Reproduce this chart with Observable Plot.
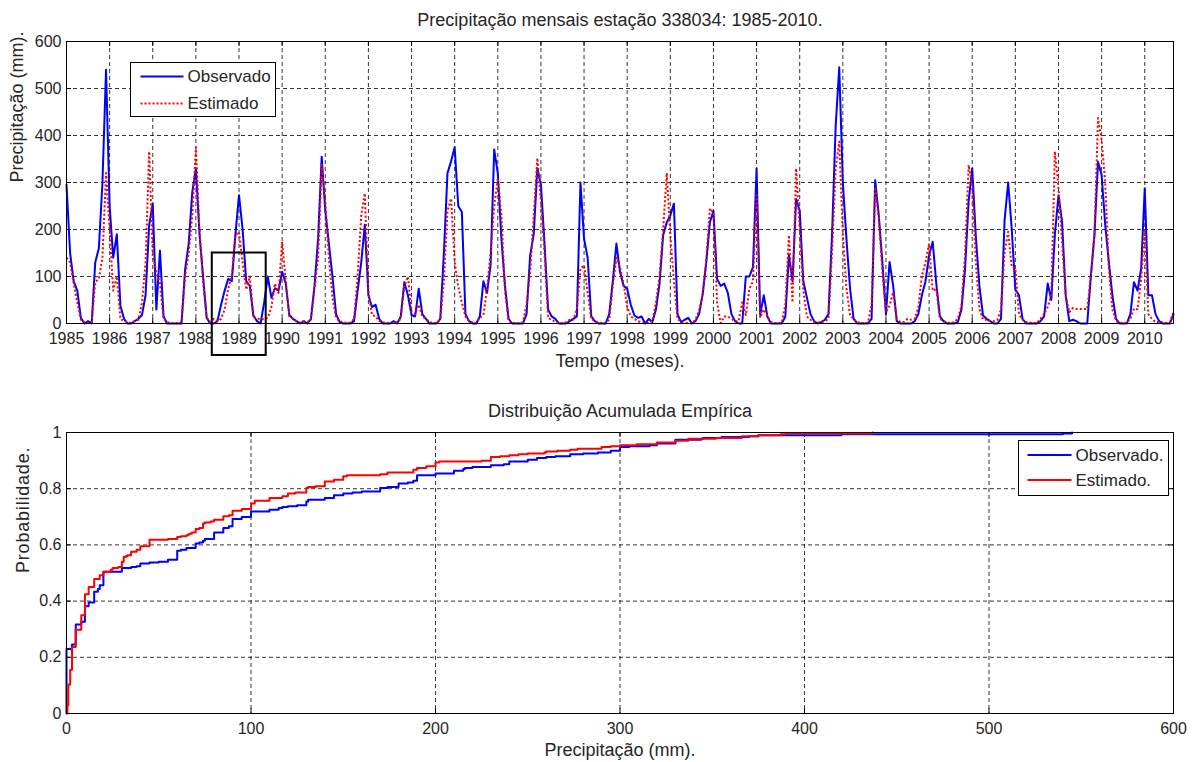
<!DOCTYPE html>
<html><head><meta charset="utf-8">
<script src="https://cdn.jsdelivr.net/npm/d3@7"></script>
<script src="https://cdn.jsdelivr.net/npm/@observablehq/plot@0.6"></script>
<style>
body{margin:0;background:#fff;}
#wrap{width:1197px;height:762px;position:relative;overflow:hidden;background:#fff;}
#wrap svg{display:block;}
</style></head><body><div id="wrap"></div>
<script>
// Monthly precipitation (mm), Jan 1985 .. Sep 2010
const observado = [
 295,150,90,70,12,0,5,0,130,160,300,540,
 250,140,190,38,10,0,0,5,10,18,60,210,
 255,30,155,15,0,0,0,0,0,115,170,280,
 330,190,100,12,0,0,5,40,70,95,90,190,
 273,200,90,80,17,5,0,45,100,55,75,70,
 110,85,18,10,5,0,5,0,10,80,180,355,
 240,170,100,20,3,0,0,0,5,70,130,210,
 60,35,40,10,0,0,0,5,0,15,88,60,
 18,15,74,20,10,0,0,0,10,150,320,345,
 375,250,237,20,5,0,0,15,90,65,125,370,
 320,180,80,10,0,0,0,0,20,145,190,330,
 295,170,30,15,10,0,0,0,5,10,15,300,
 180,140,15,5,0,0,0,20,90,170,110,80,
 74,40,17,12,15,0,10,3,30,85,188,215,
 230,255,20,3,8,12,0,5,20,62,130,215,
 240,95,80,85,65,20,5,0,0,100,100,120,
 330,18,60,15,0,0,0,0,15,145,90,265,
 240,90,55,20,5,0,3,8,20,190,420,545,
 300,180,75,10,0,0,0,0,10,305,230,130,
 20,131,80,5,0,0,0,0,5,20,60,90,
 145,174,85,15,5,0,0,0,3,30,115,260,
 330,185,80,17,10,5,0,0,10,220,300,200,
 72,60,10,0,0,0,0,5,15,85,50,190,
 273,216,60,5,8,5,0,0,0,100,188,344,
 316,210,131,60,10,0,0,0,20,88,70,117,
 288,60,60,20,5,0,0,0,20
];
const estimado = [
 140,130,85,45,8,3,1,2,88,95,140,320,
 200,70,100,10,5,3,1,5,8,45,130,366,
 145,110,85,10,3,1,0.5,1,3,100,150,230,
 375,200,90,12,3,10,5,10,30,74,102,188,
 195,130,72,100,12,12,8,10,12,35,85,65,
 174,90,15,10,5,2,5,3,8,74,140,337,
 260,140,55,12,5,3,1,2,10,100,230,277,
 68,18,15,5,3,1,0.5,1,3,10,80,100,
 25,20,40,15,10,3,1,2,8,90,240,266,
 131,78,45,15,5,2,0.5,12,18,74,150,250,
 309,230,70,5,2,1,0.5,3,40,110,230,352,
 259,150,12,8,3,1,0.5,3,8,8,30,117,
 124,66,10,5,2,1,0.5,8,80,140,120,85,
 35,15,10,5,2,1,1,5,45,100,200,320,
 188,90,10,3,2,1,0.5,8,28,62,135,245,
 235,45,1,15,15,10,5,5,45,18,74,90,
 273,12,30,15,3,1,0.5,2,40,188,45,330,
 200,70,15,8,3,2,3,5,10,150,330,387,
 190,75,18,10,3,1,0.5,2,40,290,225,110,
 24,38,67,10,3,3,10,8,10,35,102,130,
 170,70,74,10,5,2,1,3,10,38,145,337,
 295,130,31,8,8,5,5,8,30,152,195,120,
 117,20,8,3,2,1,1,10,20,35,60,366,
 290,174,60,24,33,31,31,31,31,102,190,437,
 390,300,120,30,5,2,1,1,10,32,30,95,
 202,20,10,3,3,2,1,3,25
];
const startYear = 1985;
const yearTicks = d3.range(1985, 2011);
const precipTicks = [0,100,200,300,400,500,600];
const ecdfXTicks = [0,100,200,300,400,500,600];
const probTicks = [0,0.2,0.4,0.6,0.8,1];
const seriesNames = ["Observado","Estimado"];
const ecdfNames = ["Observado.","Estimado."];
const highlight = [{x1:1988.38, x2:1989.63, y1:-68, y2:150}];
const titleTop = "Precipitação mensais estação 338034: 1985-2010.";
const xLabelTop = "Tempo (meses).";
const yLabelTop = "Precipitação (mm).";
const titleBottom = "Distribuição Acumulada Empírica";
const xLabelBottom = "Precipitação (mm).";
const yLabelBottom = "Probabilidade.";

const BLUE = "#0000ff", RED = "#ff0000", INK = "#262626";
const font = "'Liberation Sans', Arial, sans-serif";
const W = 1197, ML = 66, MR = 24;
const FW = W - ML - MR;

const rows = observado.map((v, i) => ({t: startYear + i / 12, obs: v, est: estimado[i]}));

function ecdf(values) {
  const s = values.slice().sort(d3.ascending);
  const n = s.length;
  const pts = [{x: s[0], p: 0}];
  s.forEach((v, i) => pts.push({x: v, p: (i + 1) / n}));
  return pts;
}

const gridStyle = {stroke: "#000", strokeOpacity: 1, strokeWidth: 0.8, strokeDasharray: "4,3"};
const baseStyle = {fontFamily: font, fontSize: "16px", color: INK, background: "#fff", overflow: "visible"};
const labelText = {fill: INK, fontSize: 18};

// ---------- top chart ----------
const H1 = 380, MT1 = 41, MB1 = 57, FH1 = H1 - MT1 - MB1;
const chartTop = Plot.plot({
  width: W, height: H1, marginTop: MT1, marginBottom: MB1, marginLeft: ML, marginRight: MR,
  style: baseStyle,
  x: {domain: [startYear, startYear + (observado.length - 1) / 12]},
  y: {domain: [0, 600]},
  marks: [
    Plot.ruleX(yearTicks, gridStyle),
    Plot.ruleY(precipTicks, gridStyle),
    Plot.ruleX(yearTicks, {stroke: "#000", insetTop: FH1 - 5}),
    Plot.ruleX(yearTicks, {stroke: "#000", insetBottom: FH1 - 5}),
    Plot.ruleY(precipTicks, {stroke: "#000", insetRight: FW - 5}),
    Plot.ruleY(precipTicks, {stroke: "#000", insetLeft: FW - 5}),
    Plot.line(rows, {x: "t", y: "obs", stroke: BLUE, strokeWidth: 2}),
    Plot.line(rows, {x: "t", y: "est", stroke: RED, strokeWidth: 2, strokeDasharray: "2,2.2", strokeLinecap: "butt"}),
    Plot.frame({stroke: "#000"}),
    Plot.rect(highlight, {x1: "x1", x2: "x2", y1: "y1", y2: "y2", fill: "none", stroke: "#000", strokeWidth: 2}),
    Plot.axisX({ticks: yearTicks, tickFormat: d => String(d), tickSize: 0, tickPadding: 9, label: null, fill: INK}),
    Plot.axisY({ticks: precipTicks, tickFormat: d => String(d), tickSize: 0, tickPadding: 5, label: null, fill: INK}),
    Plot.text([titleTop], {text: d => d, frameAnchor: "top", dy: -21, lineAnchor: "middle", ...labelText}),
    Plot.text([xLabelTop], {text: d => d, frameAnchor: "bottom", dy: 38, lineAnchor: "middle", ...labelText}),
    Plot.text([yLabelTop], {text: d => d, frameAnchor: "left", dx: -49, rotate: -90, lineAnchor: "middle", ...labelText})
  ]
});

// ---------- bottom chart ----------
const H2 = 382, MT2 = 52, MB2 = 49, FH2 = H2 - MT2 - MB2;
const ecdfObs = ecdf(observado), ecdfEst = ecdf(estimado);
const chartBottom = Plot.plot({
  width: W, height: H2, marginTop: MT2, marginBottom: MB2, marginLeft: ML, marginRight: MR,
  style: baseStyle,
  x: {domain: [0, 600]},
  y: {domain: [0, 1]},
  marks: [
    Plot.ruleX(ecdfXTicks, gridStyle),
    Plot.ruleY(probTicks, gridStyle),
    Plot.ruleX(ecdfXTicks, {stroke: "#000", insetTop: FH2 - 5}),
    Plot.ruleX(ecdfXTicks, {stroke: "#000", insetBottom: FH2 - 5}),
    Plot.ruleY(probTicks, {stroke: "#000", insetRight: FW - 5}),
    Plot.ruleY(probTicks, {stroke: "#000", insetLeft: FW - 5}),
    Plot.line(ecdfObs, {x: "x", y: "p", curve: "step-after", stroke: BLUE, strokeWidth: 2}),
    Plot.line(ecdfEst, {x: "x", y: "p", curve: "step-after", stroke: RED, strokeWidth: 2}),
    Plot.frame({stroke: "#000"}),
    Plot.axisX({ticks: ecdfXTicks, tickFormat: d => String(d), tickSize: 0, tickPadding: 9, label: null, fill: INK}),
    Plot.axisY({ticks: probTicks, tickFormat: d => String(d), tickSize: 0, tickPadding: 5, label: null, fill: INK}),
    Plot.text([titleBottom], {text: d => d, frameAnchor: "top", dy: -21, lineAnchor: "middle", ...labelText}),
    Plot.text([xLabelBottom], {text: d => d, frameAnchor: "bottom", dy: 37, lineAnchor: "middle", ...labelText}),
    Plot.text([yLabelBottom], {text: d => d, frameAnchor: "left", dx: -43, rotate: -90, lineAnchor: "middle", ...labelText})
  ]
});

const wrap = document.getElementById("wrap");
wrap.appendChild(chartTop);
wrap.appendChild(chartBottom);
d3.select(chartBottom).selectAll("text").filter(function () { return this.textContent === yLabelBottom; })
  .attr("letter-spacing", "0.8px");

// ---------- legends ----------
function legend(svg, box, items) {
  const g = d3.select(svg).append("g").attr("font-family", font).attr("font-size", 17).attr("text-anchor", "start");
  g.append("rect").attr("x", box.x).attr("y", box.y).attr("width", box.w).attr("height", box.h)
    .attr("fill", "#fff").attr("stroke", "#000").attr("stroke-width", 1);
  items.forEach((it, i) => {
    const y = box.y + box.row0 + i * box.rowH;
    g.append("line").attr("x1", box.x + box.l0).attr("x2", box.x + box.l1).attr("y1", y).attr("y2", y)
      .attr("stroke", it.color).attr("stroke-width", 2).attr("stroke-dasharray", it.dash || null)
      .attr("stroke-linecap", "butt");
    g.append("text").attr("x", box.x + box.l1 + 4).attr("y", y).attr("dy", "0.35em")
      .attr("text-anchor", "start").attr("fill", INK).text(it.name);
  });
}
legend(chartTop, {x: 130.5, y: 62.5, w: 145, h: 54, row0: 14, rowH: 27, l0: 10, l1: 53},
  [{name: seriesNames[0], color: BLUE}, {name: seriesNames[1], color: RED, dash: "2,2"}]);
legend(chartBottom, {x: 1018.5, y: 60.5, w: 150, h: 55, row0: 14.5, rowH: 25, l0: 9, l1: 53},
  [{name: ecdfNames[0], color: BLUE}, {name: ecdfNames[1], color: RED}]);
</script>
</body></html>
